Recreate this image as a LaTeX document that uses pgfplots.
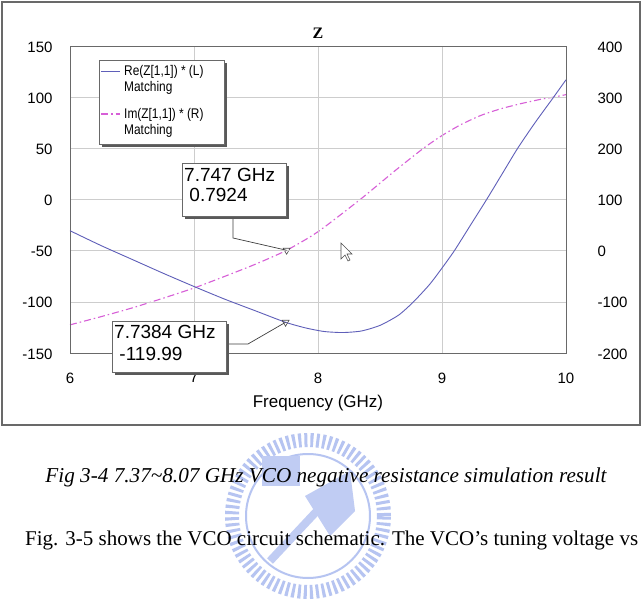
\documentclass[border=0pt]{standalone}
\usepackage{pgfplots}
\pgfplotsset{compat=1.18}
\usepackage{fontspec}
\setmainfont{Liberation Sans}
\newfontfamily\serif{Liberation Serif}
\newfontfamily\narrow[FakeStretch=0.85]{Liberation Sans}
\definecolor{reblue}{RGB}{95,95,185}
\definecolor{impink}{RGB}{215,95,215}
\definecolor{gridgray}{RGB}{205,205,205}
\definecolor{framegray}{RGB}{105,105,105}
\definecolor{logoblue}{RGB}{150,170,235}
\begin{document}
\begin{tikzpicture}
\useasboundingbox (0pt,0pt) rectangle (643pt,606pt);
\fill[white] (0pt,0pt) rectangle (643pt,606pt);
\begin{scope}[x=1pt,y=1pt]
% watermark logo (faint)
\begin{scope}[logoblue!70]
\draw[line width=14pt, dash pattern=on 3pt off 3pt] (308,90) ellipse (76 and 76);
\draw[line width=2pt] (308,90) ellipse (62 and 62);
\fill[logoblue!60] (262,120) rectangle (300,150);
\fill[logoblue!60] (305,110) -- (350,135) -- (355,95) -- (330,70) -- cycle;
\draw[line width=8pt, logoblue!60] (270,45) -- (345,125);
\end{scope}
% outer frame
\draw[framegray, line width=1.2pt] (2,181) rectangle (640,604);
% caption and body text
\node[anchor=center, font=\serif\itshape\fontsize{21.2}{23}\selectfont] at (326,129) {Fig 3-4 7.37\textasciitilde 8.07 GHz VCO negative resistance simulation result};
\node[anchor=west, font=\serif\fontsize{21}{23}\selectfont, inner sep=0pt] at (25,66) {Fig. 3-5 shows the VCO circuit schematic. The VCO’s tuning voltage vs};
\end{scope}
% right axis (Im)
\begin{axis}[at={(70pt,253pt)}, anchor=south west, scale only axis, width=496pt, height=307pt,
  xmin=6, xmax=10, ymin=-200, ymax=400,
  axis x line=none, axis y line*=right,
  ytick={-200,-100,...,400},
  major tick length=0,
  axis line style={framegray, line width=0.8pt},
  /pgf/number format/assume math mode=true,
  yticklabel style={font=\fontsize{15}{15}\selectfont, anchor=west, xshift=28pt, yshift=-1pt},
  clip=false]
\addplot[impink, line width=1.1pt, smooth, tension=0.4, dash pattern=on 7pt off 3pt on 1.5pt off 3pt] coordinates {
(6.0,-145) (6.25,-129) (6.5,-112) (6.75,-93) (7.0,-73) (7.25,-50) (7.5,-26) (7.747,0.79) (8.0,37) (8.34,100) (8.62,156) (8.85,200) (9.0,225) (9.15,246) (9.31,264) (9.47,277) (9.63,287) (9.8,296) (9.9,300) (10,305)};
\addplot[only marks, mark=triangle, mark size=4pt, mark options={rotate=180, draw=black!70, fill=white, line width=0.6pt}] coordinates {(7.747,0.7924)};
\coordinate (m1) at (axis cs:7.747,0.7924);
\end{axis}
% left axis (Re)
\begin{axis}[at={(70pt,253pt)}, anchor=south west, scale only axis, width=496pt, height=307pt,
  xmin=6, xmax=10, ymin=-150, ymax=150,
  xtick={6,7,8,9,10}, ytick={-150,-100,...,150},
  grid=major, major grid style={gridgray, line width=0.6pt},
  axis line style={framegray, line width=0.8pt},
  major tick length=0,
  /pgf/number format/assume math mode=true,
  tick label style={font=\fontsize{15}{15}\selectfont},
  yticklabel style={xshift=-14pt, yshift=-1pt},
  xticklabel style={yshift=-16pt},
  xlabel={Frequency (GHz)},
  xlabel style={font=\fontsize{17}{17}\selectfont, at={(axis description cs:0.5,0)}, anchor=center, yshift=-50pt},
  title={Z},
  title style={font=\serif\bfseries\fontsize{16}{16}\selectfont, at={(axis description cs:0.5,1)}, anchor=center, yshift=7pt},
  clip=false]
\addplot[reblue, line width=0.9pt, smooth, tension=0.4] coordinates {
(6.0,-30.5) (6.25,-45) (6.5,-58.5) (6.75,-72) (7.0,-85) (7.25,-97.5) (7.5,-109) (7.7384,-119.99) (7.9,-125.5) (8.05,-129) (8.2,-130) (8.35,-128.5) (8.5,-123) (8.65,-113) (8.77,-100) (8.9,-83) (9.0,-67) (9.1,-50) (9.23,-25) (9.36,0) (9.48,24) (9.61,50) (9.75,75) (9.9,100) (10,117)};
\addplot[only marks, mark=triangle, mark size=4pt, mark options={rotate=180, draw=black!70, fill=white, line width=0.6pt}] coordinates {(7.7384,-119.99)};
\coordinate (m2) at (axis cs:7.7384,-119.99);
\end{axis}
\begin{scope}[x=1pt,y=1pt]
% legend (drawn by hand)
\fill[black!65] (102,459) rectangle (227,543);
\draw[framegray, fill=white, line width=0.8pt] (99,462) rectangle (224,546);
\draw[reblue, line width=0.9pt] (101,535) -- (120,535);
\draw[impink, line width=1.1pt, dash pattern=on 7pt off 3pt on 1.5pt off 3pt] (101,492) -- (120,492);
\node[anchor=north west, align=left, inner sep=0pt, font=\narrow\fontsize{14}{16}\selectfont] at (124,541) {Re(Z[1,1]) * (L)\\Matching};
\node[anchor=north west, align=left, inner sep=0pt, font=\narrow\fontsize{14}{16}\selectfont] at (124,498) {Im(Z[1,1]) * (R)\\Matching};
% cursor
\begin{scope}[shift={(341,363)}]
\draw[fill=white, draw=black!70, line width=0.6pt] (0,0) -- (0,-16) -- (4,-12) -- (7,-18) -- (9,-17) -- (6,-11) -- (11,-11) -- cycle;
\end{scope}
% callout 1
\draw[black!75, line width=0.7pt] (233,390) -- (233,368) -- (m1);
\fill[black!65] (185,387) rectangle (289,440);
\draw[framegray, fill=white, line width=0.8pt] (182,390) rectangle (286,443);
\node[anchor=north west, align=left, inner sep=0pt, font=\fontsize{19}{20}\selectfont] at (184,438) {7.747 GHz\\\ 0.7924};
% callout 2
\draw[black!75, line width=0.7pt] (226,262) -- (248,262) -- (m2);
\fill[black!65] (115,231) rectangle (229,282);
\draw[framegray, fill=white, line width=0.8pt] (112,234) rectangle (226,285);
\node[anchor=north west, align=left, inner sep=0pt, font=\fontsize{19}{22}\selectfont] at (114,281) {7.7384 GHz\\\ -119.99};
\end{scope}
\end{tikzpicture}
\end{document}
